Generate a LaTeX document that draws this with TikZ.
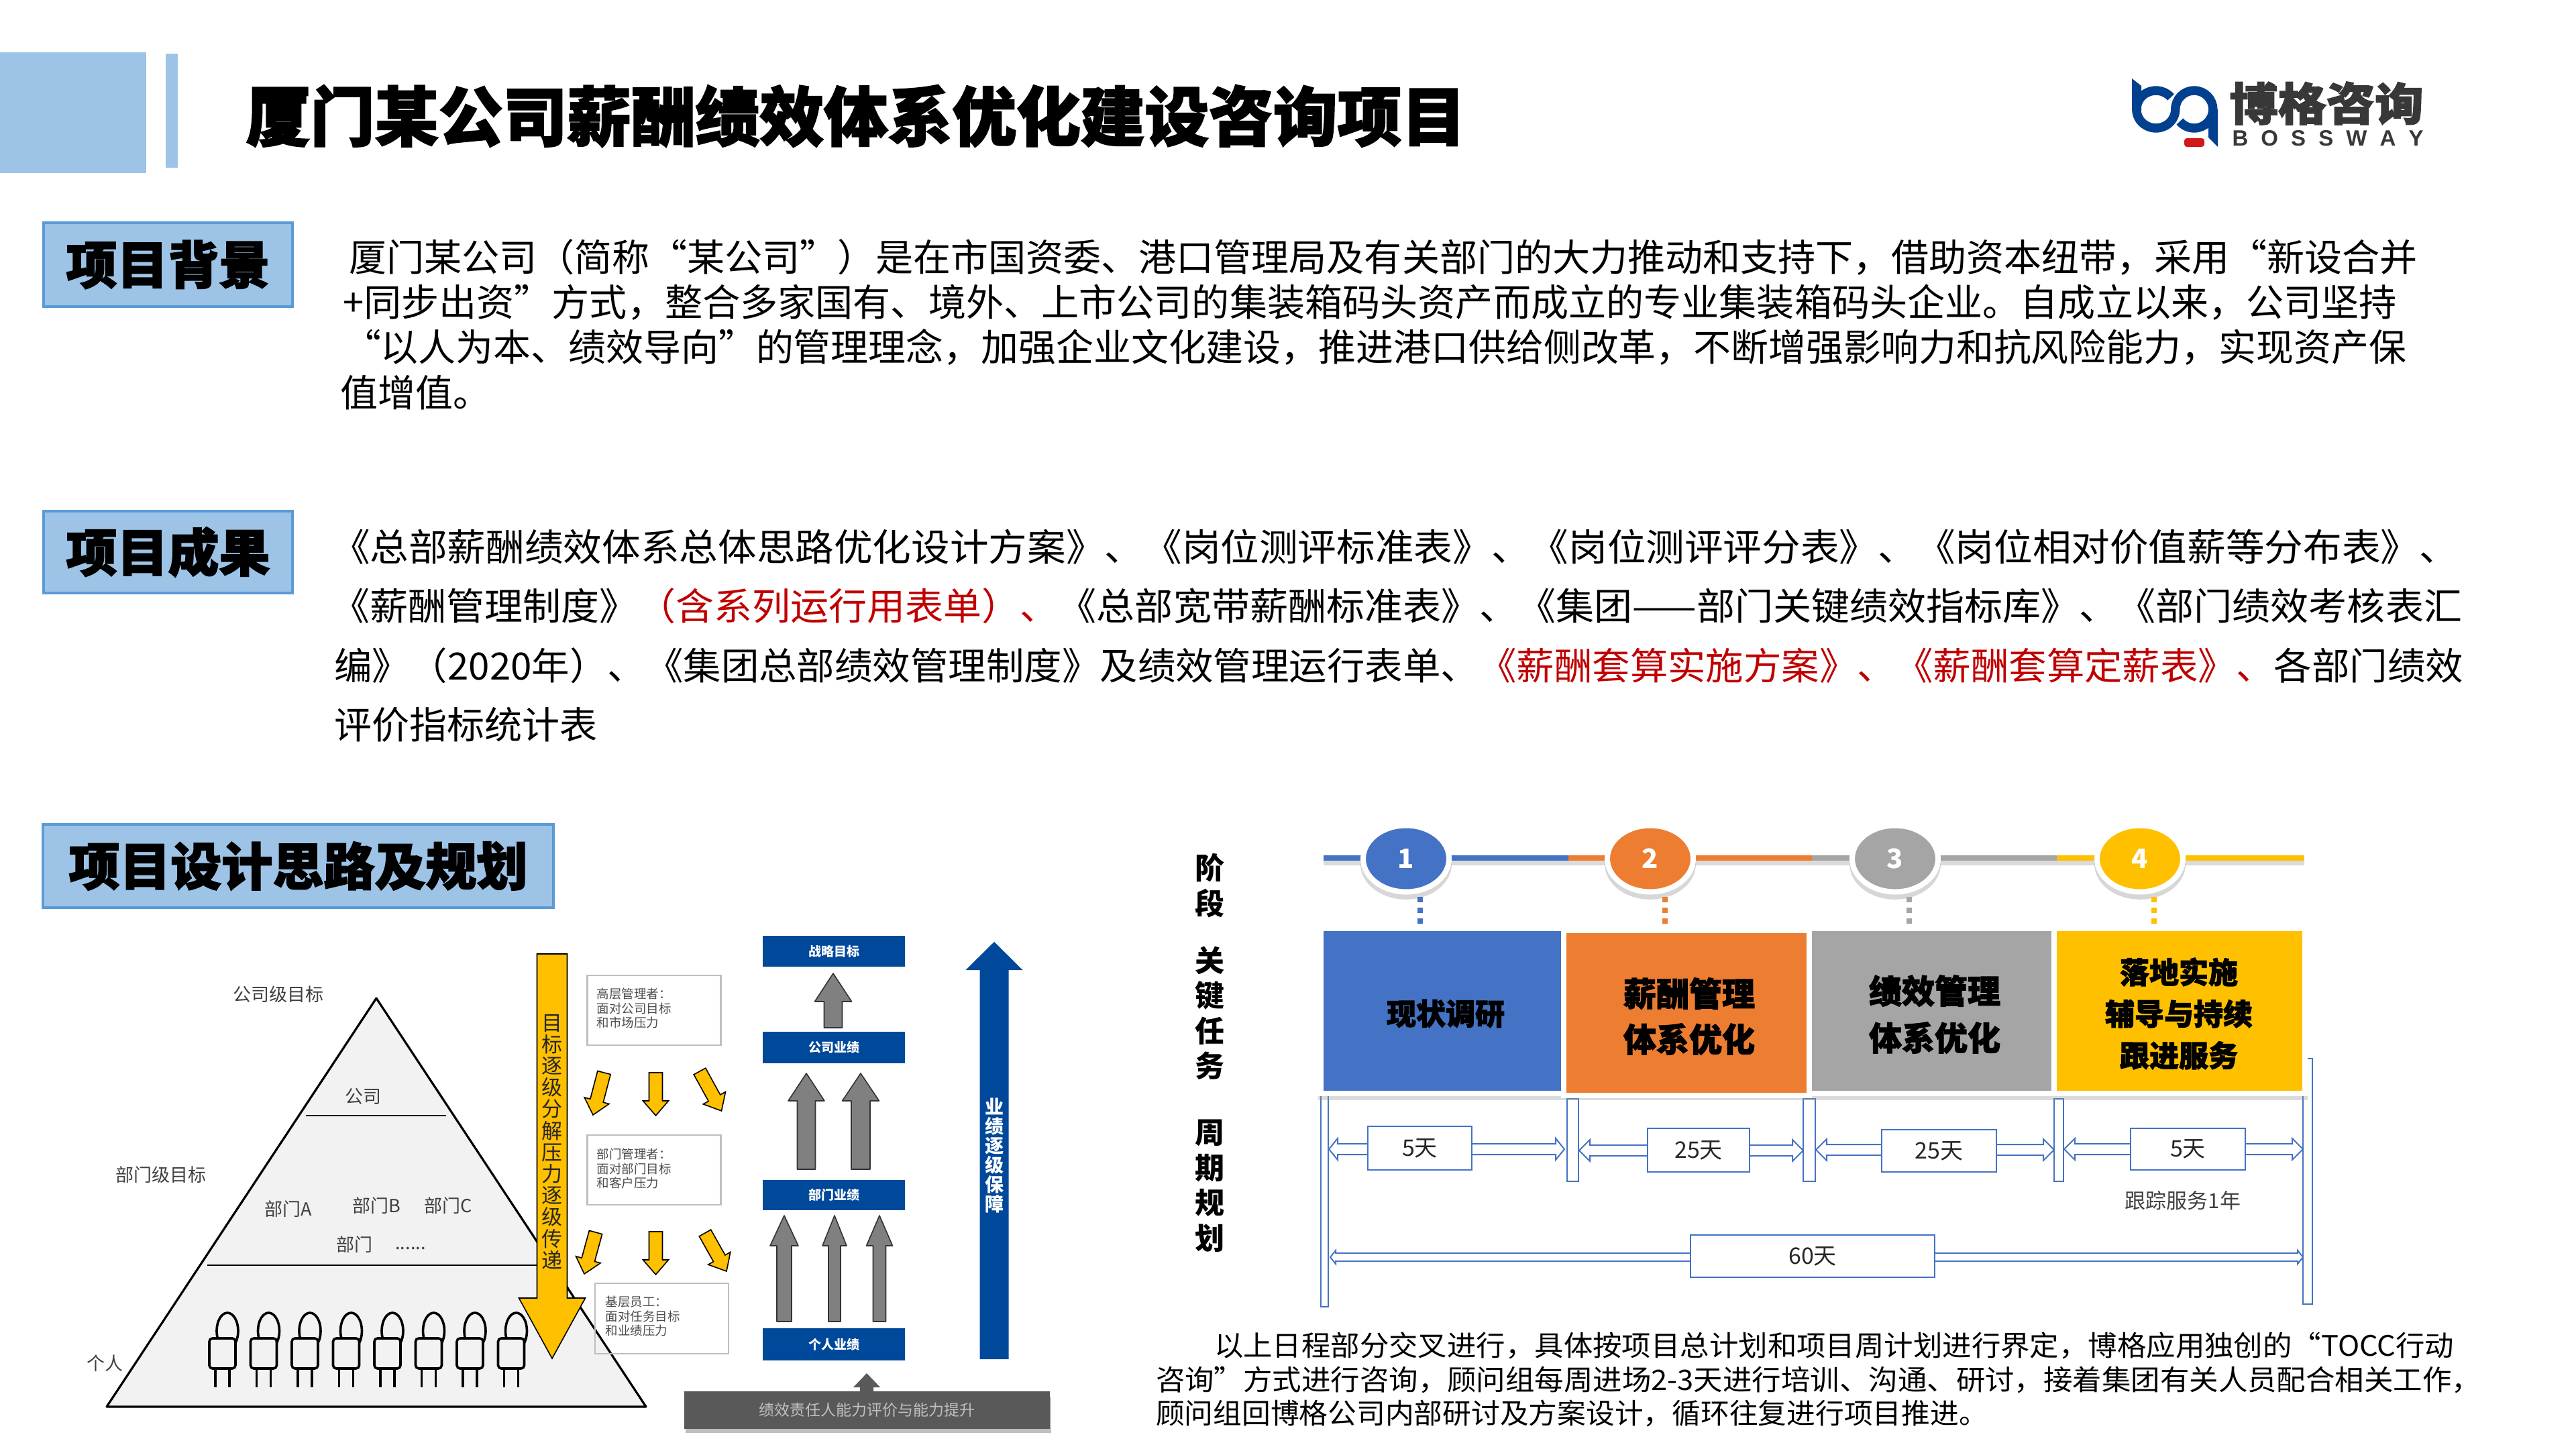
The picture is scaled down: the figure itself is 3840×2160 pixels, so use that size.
\documentclass[tikz,border=0pt]{standalone}
\usepackage{fontspec}
\usepackage{graphicx}
\usetikzlibrary{calc,shapes.geometric}
\setmainfont{Noto Sans CJK SC}
\newfontfamily\hvy[BoldFeatures={FakeBold=2.2}]{Noto Sans CJK SC}
\newfontfamily\latn{Liberation Sans}
\newdimen\pxu \pxu=.25pt
\newcommand\fsz[2]{\fontsize{\fpeval{#1*0.25}}{\fpeval{#2*0.25}}\selectfont}
\definecolor{hdr}{HTML}{9DC3E6}
\definecolor{hdrb}{HTML}{5B9BD5}
\definecolor{cA}{HTML}{4472C4}
\definecolor{cB}{HTML}{ED7D31}
\definecolor{cC}{HTML}{A5A5A5}
\definecolor{cD}{HTML}{FFC000}
\definecolor{navy}{HTML}{00489A}
\definecolor{darkred}{HTML}{C00000}
\definecolor{bq}{HTML}{00408F}
\tikzset{
 sz/.style 2 args={minimum width=({#1})*0.25pt,minimum height=({#2})*0.25pt,inner sep=0pt,outer sep=0pt},
 sect/.style={fill=hdr,draw=hdrb,line width=1pt,font={\hvy\bfseries\fsz{76}{76}}},
 para/.style={anchor=base west,inner sep=0pt,outer sep=0pt,font=\fsz{56}{56}},
 parb/.style={anchor=base west,inner sep=0pt,outer sep=0pt,font=\fsz{42}{42}},
 lab/.style={inner sep=0pt,text=black!75,font=\fsz{27}{27}},
 wbox/.style={draw=black!25,line width=.6pt},
 wtxt/.style={anchor=west,inner sep=0pt,align=left,text=black!70,font=\fsz{18.5}{21.5}},
 bluebox/.style={fill=navy,text=white,font={\bfseries\fsz{19}{19}}},
 yel/.style={fill=cD},
 gar/.style={fill=black!50,draw=black!80,line width=.4pt,line join=round},
 side/.style={inner sep=0pt,align=center,font={\bfseries\fsz{44}{52.5}}},
 stage/.style={draw=white,line width=2pt},
 stxt/.style 2 args={inner sep=0pt,align=center,text=black,font={\hvy\bfseries\fsz{#1}{#2}}},
 dur/.style={fill=white,draw=cA,line width=.6pt,font=\fsz{34}{34},text=black!85},
 vbar/.style={fill=white,draw=cA,line width=.6pt},
 hol/.style={fill=white,draw=cA,line width=.5pt,line join=miter},
 circ/.style={ellipse,fill=#1,draw=white,line width=2pt,minimum width=32pt,minimum height=24.75pt,inner sep=0pt,text=white,font={\bfseries\fsz{40}{40}}},
 seg/.style={line width=2pt,draw=#1},
 dots/.style={line width=2pt,draw=#1,dash pattern=on 2pt off 2pt},
 person/.style={draw=black,line width=.9pt},
}
\newcommand\bxn[7]{\node[#2,sz={#5-#3}{#6-#4}] (#1) at ({(#3+#5)/2},{(#4+#6)/2}) {#7};}
\newcommand\tln[6]{\node[#2] (#1) at (#3,#4) {\resizebox{#5\pxu}{\height}{#6}};}
\newcommand\blk[6]{%
 \coordinate (bkA) at #2; \coordinate (bkB) at #3;
 \coordinate (bkC) at ($(bkB)!#6*0.25pt!(bkA)$);
 \draw[#1] ($(bkA)!#4*0.125pt!90:(bkB)$) -- ($(bkC)!#4*0.125pt!90:(bkB)$) -- ($(bkC)!#5*0.125pt!90:(bkB)$) -- (bkB)
  -- ($(bkC)!#5*0.125pt!-90:(bkB)$) -- ($(bkC)!#4*0.125pt!-90:(bkB)$) -- ($(bkA)!#4*0.125pt!-90:(bkB)$) -- cycle;}
\begin{document}
\begin{tikzpicture}[x=.25pt,y=-.25pt]
\useasboundingbox (0,0) rectangle (3840,2160);
% header
\fill[hdr] (0,78) rectangle (218,258);
\fill[hdr] (247,80) rectangle (265,250);
\node[anchor=center,inner sep=0pt,font={\hvy\bfseries\fsz{96}{96}}] (title) at (1276,173) {\resizebox{1818\pxu}{\height}{厦门某公司薪酬绩效体系优化建设咨询项目}};
% logo
\fill[bq] (3178,117) -- (3192,128) -- (3192,165) -- (3178,165) -- cycle;
\fill[bq] (3292,163) -- (3292,205) -- (3306,219) -- (3306,163) -- cycle;
\draw[bq,line width=3.35pt] (3236,145) arc[start angle=40,end angle=360,x radius=7.25pt,y radius=7pt]
  arc[start angle=180,end angle=-140,x radius=7pt,y radius=7pt];
\fill[red!80!black!90!white,rounded corners=1pt] (3256,206) rectangle (3286,219);
\node[inner sep=0pt,text=black!78] (logoa) at (3468,154) {\resizebox{289\pxu}{58\pxu}{\hvy\bfseries 博格咨询}};
\node[inner sep=0pt,text=black!78,font={\latn\bfseries\fsz{33}{33}}] (logob) at (3470,206) {\hbox to 285\pxu{B\hfill O\hfill S\hfill S\hfill W\hfill A\hfill Y}};
% section titles
\bxn{s1}{sect}{65}{332}{436}{457}{项目背景}
\bxn{s2}{sect}{65}{762}{436}{884}{项目成果}
\bxn{s3}{sect}{64}{1229}{825}{1353}{项目设计思路及规划}
% background text
\tln{p1}{para}{520}{405}{3084}{厦门某公司（简称“某公司”）是在市国资委、港口管理局及有关部门的大力推动和支持下，借助资本纽带，采用“新设合并}
\tln{p2}{para}{511}{472}{3062}{+同步出资”方式，整合多家国有、境外、上市公司的集装箱码头资产而成立的专业集装箱码头企业。自成立以来，公司坚持}
\tln{p3}{para}{512}{539}{3075}{“以人为本、绩效导向”的管理理念，加强企业文化建设，推进港口供给侧改革，不断增强影响力和抗风险能力，实现资产保}
\node[para] (p4) at (507,607) {值增值。};
% results text
\tln{q1}{para}{494}{836}{3170}{《总部薪酬绩效体系总体思路优化设计方案》、《岗位测评标准表》、《岗位测评评分表》、《岗位相对价值薪等分布表》、}
\tln{q2}{para}{494}{924}{3176}{《薪酬管理制度》{\color{darkred}（含系列运行用表单）、}《总部宽带薪酬标准表》、《集团——部门关键绩效指标库》、《部门绩效考核表汇}
\tln{q3}{para}{498}{1013}{3174}{编》（2020年）、《集团总部绩效管理制度》及绩效管理运行表单、{\color{darkred}《薪酬套算实施方案》、《薪酬套算定薪表》、}各部门绩效}
\node[para] (q4) at (498,1101) {评价指标统计表};
% pyramid
\draw[fill=black!5,draw=black,line width=.8pt,line join=round] (561,1488) -- (159,2097) -- (963,2097) -- cycle;
\coordinate (l1a) at (456,1663); \coordinate (l1b) at (665,1663);
\coordinate (l2a) at (309,1886); \coordinate (l2b) at (800,1886);
\draw[line width=.6pt] (l1a) -- (l1b);
\draw[line width=.6pt] (l2a) -- (l2b);
\foreach \i in {0,...,7}{
 \begin{scope}[xshift=61.5*\i*0.25pt]
  \draw[person] (339,1984) ellipse (4pt and 6.75pt);
  \draw[person,fill=black!5,rounded corners=1.2pt] (312,1995) rectangle (351,2040);
  \draw[person] (321,2040) -- (321,2068);
  \draw[person] (342,2040) -- (342,2068);
 \end{scope}
}
\node[lab] (t1) at (415,1482) {公司级目标};
\node[lab] (t2) at (240,1751) {部门级目标};
\node[lab] (t3) at (541,1634) {公司};
\node[lab] (t4) at (430,1802) {部门A};
\node[lab] (t5) at (561,1797) {部门B};
\node[lab] (t6) at (668,1797) {部门C};
\node[lab] (t7) at (528,1855) {部门};
\node[lab] (t8) at (612,1861) {......};
\node[lab] (t9) at (156,2032) {个人};
% white boxes
\bxn{w1}{wbox}{875.5}{1454}{1074.5}{1558}{}
\bxn{w2}{wbox}{875.5}{1692}{1074.5}{1796}{}
\bxn{w3}{wbox}{887}{1913}{1086}{2018}{}
\node[wtxt] (wt1) at (889,1503) {高层管理者：\\面对公司目标\\和市场压力};
\node[wtxt] (wt2) at (889,1742) {部门管理者：\\面对部门目标\\和客户压力};
\node[wtxt] (wt3) at (902,1962) {基层员工：\\面对任务目标\\和业绩压力};
% big yellow arrow
\blk{yel}{(823,1422)}{(823,2025)}{45}{99}{90}
\node[inner sep=0pt,align=center,text=black!85,font=\fsz{31}{32.2}] (yv) at (823,1702) {目\\标\\逐\\级\\分\\解\\压\\力\\逐\\级\\传\\递};
% small yellow arrows
\blk{yel}{(900.5,1599)}{(884,1662)}{20}{38}{22}
\blk{yel}{(977.5,1599)}{(977.5,1663)}{20}{38}{22}
\blk{yel}{(1043,1597)}{(1075.5,1656)}{20}{38}{22}
\blk{yel}{(888,1837)}{(871,1899)}{20}{38}{22}
\blk{yel}{(977.5,1836)}{(977.5,1900)}{20}{38}{22}
\blk{yel}{(1051,1838)}{(1083,1895)}{20}{38}{22}
% blue boxes
\bxn{b1}{bluebox}{1137}{1395}{1349}{1441}{战略目标}
\bxn{b2}{bluebox}{1137}{1538}{1349}{1585}{公司业绩}
\bxn{b3}{bluebox}{1137}{1759}{1349}{1804}{部门业绩}
\bxn{b4}{bluebox}{1137}{1980}{1349}{2028}{个人业绩}
% gray arrows
\blk{gar}{(1242,1532)}{(1242,1451)}{27}{55}{42}
\blk{gar}{(1202,1743)}{(1202,1600)}{27}{54}{41}
\blk{gar}{(1283,1743)}{(1283,1600)}{28}{55}{41}
\blk{gar}{(1169,1970)}{(1169,1812)}{22}{42}{45}
\blk{gar}{(1244,1970)}{(1244,1812)}{18}{36}{45}
\blk{gar}{(1311,1970)}{(1311,1812)}{19}{39}{45}
% tall blue arrow
\blk{fill=navy,draw=none}{(1482,2026)}{(1482,1404)}{43}{85}{42}
\node[inner sep=0pt,align=center,text=white,font={\bfseries\fsz{28}{29}}] (bv) at (1482,1723) {业\\绩\\逐\\级\\保\\障};
% gray bar
\fill[black!25] (1022,2082) rectangle (1567,2136);
\blk{fill=black!65,draw=none}{(1292,2076)}{(1292,2047)}{20}{40}{21}
\bxn{gb}{fill=black!65,text=black!25,font=\fsz{23}{23}}{1020}{2074}{1565}{2130}{绩效责任人能力评价与能力提升}
% side labels
\node[side] (a1) at (1803,1320) {阶\\段};
\node[side] (a2) at (1803,1510) {关\\键\\任\\务};
\node[side] (a3) at (1803,1768) {周\\期\\规\\划};
% timeline
\fill[black!40,opacity=.35] (1973,1282) rectangle (3435,1290);
\foreach \cx in {2096,2460,2825,3190}{\fill[black!45,opacity=.35] (\cx,1288) ellipse (17pt and 13.2pt);}
\coordinate (k0) at (1973,1279); \coordinate (k1) at (2338,1279); \coordinate (k2) at (2701,1279); \coordinate (k3) at (3066,1279); \coordinate (k4) at (3435,1279);
\draw[seg=cA] (k0) -- (k1);
\draw[seg=cB] (k1) -- (k2);
\draw[seg=cC] (k2) -- (k3);
\draw[seg=cD] (k3) -- (k4);
\node[circ=cA] (c1) at (2096,1280) {1};
\node[circ=cB] (c2) at (2460,1280) {2};
\node[circ=cC] (c3) at (2825,1280) {3};
\node[circ=cD] (c4) at (3190,1280) {4};
\coordinate (d1a) at (2117,1337); \coordinate (d1b) at (2117,1377);
\coordinate (d2a) at (2482,1337); \coordinate (d2b) at (2482,1377);
\coordinate (d3a) at (2846,1337); \coordinate (d3b) at (2846,1377);
\coordinate (d4a) at (3211,1337); \coordinate (d4b) at (3211,1377);
\draw[dots=cA] (d1a) -- (d1b);
\draw[dots=cB] (d2a) -- (d2b);
\draw[dots=cC] (d3a) -- (d3b);
\draw[dots=cD] (d4a) -- (d4b);
% vertical bars (behind stage boxes)
\bxn{v0}{vbar}{1969}{1630}{1980}{1948}{}
\bxn{v1}{vbar}{2336}{1638}{2353}{1761}{}
\bxn{v2}{vbar}{2688}{1638}{2706}{1761}{}
\bxn{v3}{vbar}{3062}{1638}{3076}{1761}{}
\bxn{v4}{vbar}{3433}{1578}{3447}{1944}{}
% stage boxes
\fill[black!40,opacity=.35] (1965,1630) rectangle (3440,1640);
\bxn{st1}{stage,fill=cA}{1969}{1384}{2331}{1630}{}
\bxn{st2}{stage,fill=cB}{2331}{1387}{2697}{1633}{}
\bxn{st3}{stage,fill=cC}{2697}{1384}{3062}{1630}{}
\bxn{st4}{stage,fill=cD}{3062}{1384}{3436}{1630}{}
\node[stxt={44}{62}] (st1t) at (2155,1511) {现状调研};
\node[stxt={49}{68}] (st2t) at (2518,1515) {薪酬管理\\体系优化};
\node[stxt={49}{70}] (st3t) at (2884,1512) {绩效管理\\体系优化};
\node[stxt={44}{62}] (st4t) at (3248,1511) {落地实施\\辅导与持续\\跟进服务};
% duration arrows
\blk{hol}{(2040,1713)}{(1981,1713)}{16}{32}{13}
\blk{hol}{(2193,1713)}{(2332,1713)}{16}{32}{13}
\blk{hol}{(2457,1715)}{(2354,1715)}{16}{32}{16}
\blk{hol}{(2607,1715)}{(2688,1715)}{16}{32}{16}
\blk{hol}{(2806,1714)}{(2707,1714)}{16}{32}{16}
\blk{hol}{(2975,1714)}{(3062,1714)}{16}{32}{16}
\blk{hol}{(3177,1713)}{(3077,1713)}{16}{32}{16}
\blk{hol}{(3346,1713)}{(3433,1713)}{16}{32}{16}
\blk{hol}{(2521,1874)}{(1983,1874)}{12}{20}{8}
\blk{hol}{(2883,1874)}{(3433,1874)}{12}{20}{8}
% duration boxes
\bxn{e1}{dur}{2039}{1679}{2194}{1744}{5天}
\bxn{e2}{dur}{2456}{1682}{2608}{1747}{25天}
\bxn{e3}{dur}{2805}{1684}{2976}{1747}{25天}
\bxn{e4}{dur}{3176}{1682}{3347}{1744}{5天}
\bxn{e5}{dur}{2520}{1841}{2884}{1904}{60天}
\node[inner sep=0pt,text=black!75,font=\fsz{31}{31}] (tr) at (3254,1790) {跟踪服务1年};
% bottom paragraph
\tln{r1}{parb}{1810}{2021}{1848}{以上日程部分交叉进行，具体按项目总计划和项目周计划进行界定，博格应用独创的“TOCC行动}
\tln{r2}{parb}{1723}{2072}{1975}{咨询”方式进行咨询，顾问组每周进场2-3天进行培训、沟通、研讨，接着集团有关人员配合相关工作，}
\tln{r3}{parb}{1723}{2122}{1240}{顾问组回博格公司内部研讨及方案设计，循环往复进行项目推进。}
\end{tikzpicture}
\end{document}
